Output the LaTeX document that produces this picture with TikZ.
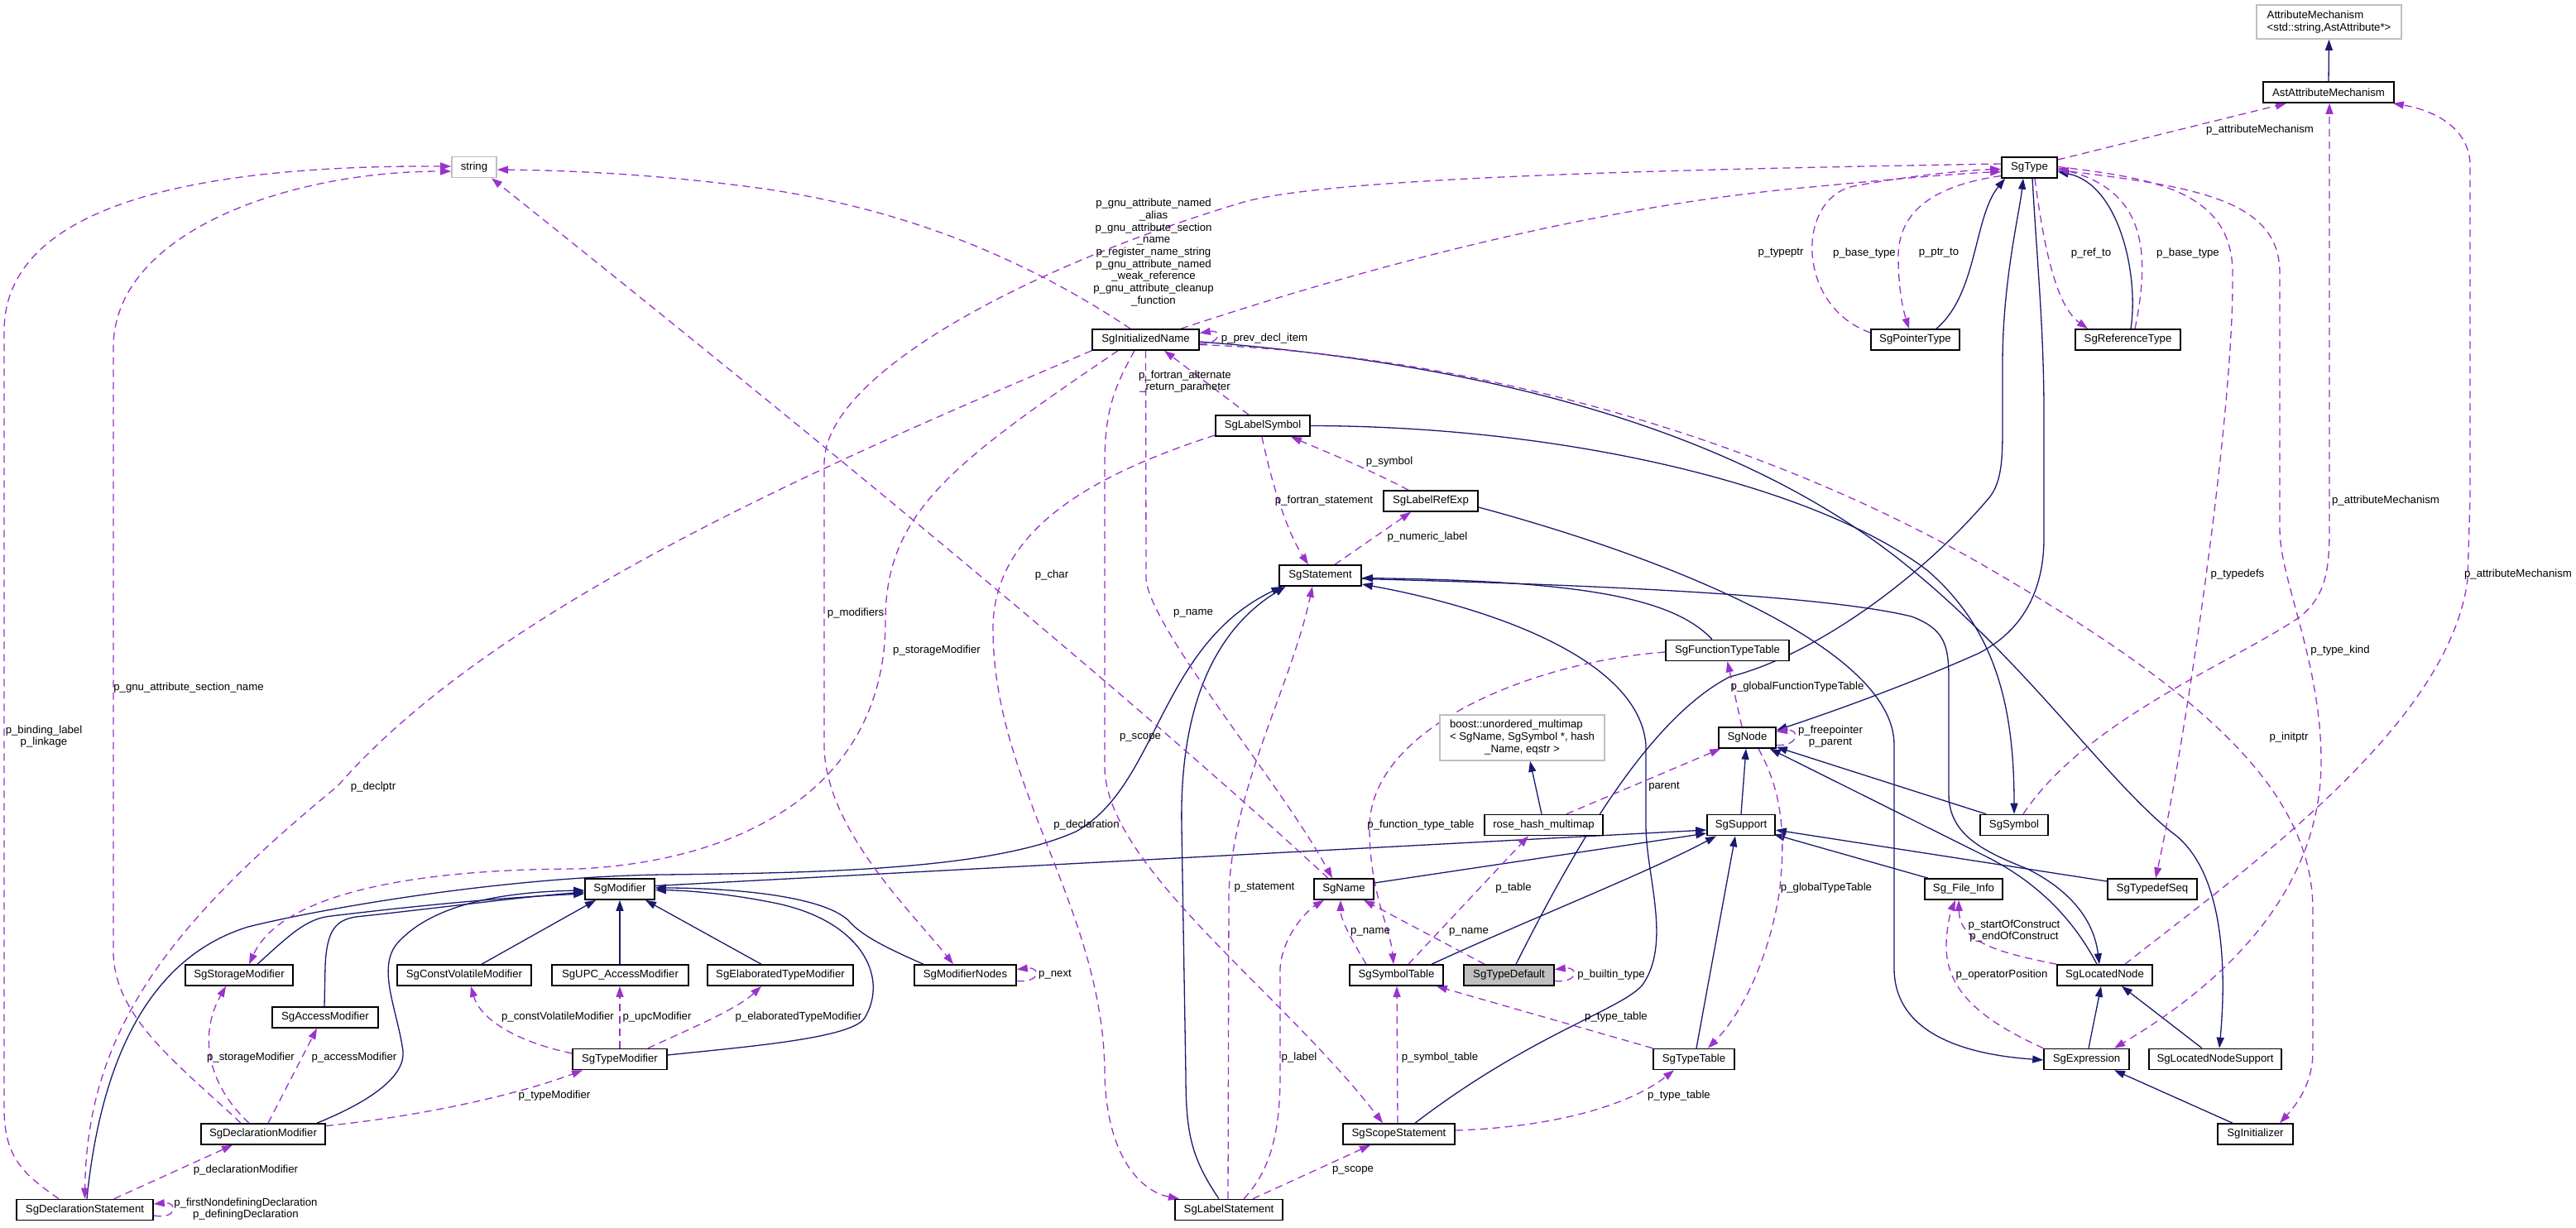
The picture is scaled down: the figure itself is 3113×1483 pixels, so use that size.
\documentclass[tikz,border=0pt]{standalone}
\usepackage{fontspec}
\setmainfont{Liberation Sans}
\usetikzlibrary{arrows.meta}
\definecolor{edgeblue}{HTML}{191970}
\definecolor{edgeviolet}{HTML}{9A32CD}
\definecolor{boxgray}{HTML}{BFBFBF}
\newcommand\dxf{\fontsize{13.2}{14.7}\selectfont}
\pgfdeclarelayer{bg}
\pgfsetlayers{bg,main}
\begin{document}
\begin{tikzpicture}[x=1pt,y=-1pt,
  cls/.style={draw=black, line width=1.6pt, fill=white, minimum height=25pt, inner sep=0pt, font=\dxf, text=black},
  ext/.style={cls, draw=boxgray},
  inh/.style={draw=edgeblue, line width=1.3pt, -{Triangle[length=13pt,width=9pt]}},
  use/.style={draw=edgeviolet, line width=1.3pt, dash pattern=on 9pt off 6pt, -{Triangle[length=13pt,width=9pt]}},
  lbl/.style={font=\dxf, align=center, inner sep=0pt, text=black}]
\useasboundingbox (0,0) rectangle (3113,1483);

% ---------- classes ----------
\node[ext, minimum width=175pt, minimum height=41pt, align=left] (AttrMech) at (2814.5,26.5) {AttributeMechanism\\<std::string,AstAttribute*>};
\node[cls, minimum width=158pt] (AstAttr) at (2814,111.5) {AstAttributeMechanism};
\node[cls, minimum width=67pt] (SgType) at (2452.5,202.5) {SgType};
\node[ext, minimum width=54pt] (string) at (573,202) {string};
\node[cls, minimum width=129pt] (SgInitName) at (1384.5,410.5) {SgInitializedName};
\node[cls, minimum width=107pt] (SgPointerType) at (2314.5,410.5) {SgPointerType};
\node[cls, minimum width=127pt] (SgRefType) at (2571.5,410.5) {SgReferenceType};
\node[cls, minimum width=114pt] (SgLabelSymbol) at (1526,514.5) {SgLabelSymbol};
\node[cls, minimum width=114pt] (SgLabelRefExp) at (1729,605.5) {SgLabelRefExp};
\node[cls, minimum width=99pt] (SgStatement) at (1595.5,695.5) {SgStatement};
\node[cls, minimum width=149pt] (SgFTT) at (2087.5,786) {SgFunctionTypeTable};
\node[cls, minimum width=69pt] (SgNode) at (2111.5,891.5) {SgNode};
\node[ext, minimum width=199pt, minimum height=55pt] (boost) at (1839.5,891.5) {\begin{tabular}{@{}l@{}}boost::unordered\_multimap\\< SgName, SgSymbol *, hash\\\multicolumn{1}{@{}c@{}}{\_Name, eqstr >}\end{tabular}};
\node[cls, minimum width=143pt] (rose) at (1865.5,997) {rose\_hash\_multimap};
\node[cls, minimum width=82pt] (SgSupport) at (2104,997) {SgSupport};
\node[cls, minimum width=82pt] (SgSymbol) at (2434,997) {SgSymbol};
\node[cls, minimum width=84pt] (SgModifier) at (749,1074.5) {SgModifier};
\node[cls, minimum width=72pt] (SgName) at (1624,1074.5) {SgName};
\node[cls, minimum width=94pt] (SgFileInfo) at (2373,1074.5) {Sg\_File\_Info};
\node[cls, minimum width=108pt] (SgTypedefSeq) at (2601,1074.5) {SgTypedefSeq};
\node[cls, minimum width=130pt] (SgStorageMod) at (289,1178.5) {SgStorageModifier};
\node[cls, minimum width=162pt] (SgCVMod) at (561,1178.5) {SgConstVolatileModifier};
\node[cls, minimum width=165pt] (SgUPC) at (749.5,1178.5) {SgUPC\_AccessModifier};
\node[cls, minimum width=176pt] (SgElabMod) at (943,1178.5) {SgElaboratedTypeModifier};
\node[cls, minimum width=123pt] (SgModNodes) at (1166.5,1178.5) {SgModifierNodes};
\node[cls, minimum width=113pt] (SgSymTab) at (1687.5,1178.5) {SgSymbolTable};
\node[cls, minimum width=109pt, fill=boxgray] (SgTypeDefault) at (1823.5,1178.5) {SgTypeDefault};
\node[cls, minimum width=115pt] (SgLocNode) at (2543.5,1178.5) {SgLocatedNode};
\node[cls, minimum width=128pt] (SgAccessMod) at (393,1229.5) {SgAccessModifier};
\node[cls, minimum width=114pt] (SgTypeMod) at (749,1280) {SgTypeModifier};
\node[cls, minimum width=98pt] (SgTypeTable) at (2047,1280) {SgTypeTable};
\node[cls, minimum width=103pt] (SgExpr) at (2521.5,1280) {SgExpression};
\node[cls, minimum width=160pt] (SgLNS) at (2677,1280) {SgLocatedNodeSupport};
\node[cls, minimum width=150pt] (SgDeclMod) at (318,1370.5) {SgDeclarationModifier};
\node[cls, minimum width=135pt] (SgScopeSt) at (1690.5,1370.5) {SgScopeStatement};
\node[cls, minimum width=91pt] (SgInitializer) at (2725.5,1370.5) {SgInitializer};
\node[cls, minimum width=165pt] (SgDeclSt) at (102.5,1462) {SgDeclarationStatement};
\node[cls, minimum width=130pt] (SgLabelSt) at (1485,1462) {SgLabelStatement};

% ---------- edge labels ----------
\node[lbl] (l01) at (1394,305) {p\_gnu\_attribute\_named\\\_alias\\p\_gnu\_attribute\_section\\\_name\\p\_register\_name\_string\\p\_gnu\_attribute\_named\\\_weak\_reference\\p\_gnu\_attribute\_cleanup\\\_function};
\node[lbl] (l02) at (1528,409) {p\_prev\_decl\_item};
\node[lbl] (l03) at (1432,461) {p\_fortran\_alternate\\\_return\_parameter};
\node[lbl] (l04) at (2152,306) {p\_typeptr};
\node[lbl] (l05) at (2253,306) {p\_base\_type};
\node[lbl] (l06) at (2343,306) {p\_ptr\_to};
\node[lbl] (l07) at (1679,558) {p\_symbol};
\node[lbl] (l08) at (2731,157) {p\_attributeMechanism};
\node[lbl] (l09) at (2527,306) {p\_ref\_to};
\node[lbl] (l10) at (2644,306) {p\_base\_type};
\node[lbl] (l11) at (228,831) {p\_gnu\_attribute\_section\_name};
\node[lbl] (l12) at (53,890) {p\_binding\_label\\p\_linkage};
\node[lbl] (l13) at (451,951) {p\_declptr};
\node[lbl] (l14) at (1271,695) {p\_char};
\node[lbl] (l15) at (1034,741) {p\_modifiers};
\node[lbl] (l16) at (1442,741) {p\_name};
\node[lbl] (l17) at (1132,786) {p\_storageModifier};
\node[lbl] (l18) at (1378,891) {p\_scope};
\node[lbl] (l19) at (1313,997) {p\_declaration};
\node[lbl] (l20) at (1600,605) {p\_fortran\_statement};
\node[lbl] (l21) at (1725,649) {p\_numeric\_label};
\node[lbl] (l22) at (2172,830) {p\_globalFunctionTypeTable};
\node[lbl] (l23) at (2212,890) {p\_freepointer\\p\_parent};
\node[lbl] (l24) at (2011,951) {parent};
\node[lbl] (l25) at (1717,997) {p\_function\_type\_table};
\node[lbl] (l26) at (2883,605) {p\_attributeMechanism};
\node[lbl] (l27) at (2704,694) {p\_typedefs};
\node[lbl] (l28) at (3043,694) {p\_attributeMechanism};
\node[lbl] (l29) at (2828,786) {p\_type\_kind};
\node[lbl] (l30) at (2766,891) {p\_initptr};
\node[lbl] (l31) at (303,1278) {p\_storageModifier};
\node[lbl] (l32) at (428,1278) {p\_accessModifier};
\node[lbl] (l33) at (674,1229) {p\_constVolatileModifier};
\node[lbl] (l34) at (794,1229) {p\_upcModifier};
\node[lbl] (l35) at (670,1324) {p\_typeModifier};
\node[lbl] (l36) at (297,1414) {p\_declarationModifier};
\node[lbl] (l37) at (297,1461) {p\_firstNondefiningDeclaration\\p\_definingDeclaration};
\node[lbl] (l38) at (965,1229) {p\_elaboratedTypeModifier};
\node[lbl] (l39) at (1275,1178) {p\_next};
\node[lbl] (l40) at (1528,1073) {p\_statement};
\node[lbl] (l41) at (1570,1278) {p\_label};
\node[lbl] (l42) at (1829,1073) {p\_table};
\node[lbl] (l43) at (1656,1126) {p\_name};
\node[lbl] (l44) at (1775,1126) {p\_name};
\node[lbl] (l45) at (1947,1178) {p\_builtin\_type};
\node[lbl] (l46) at (1953,1229) {p\_type\_table};
\node[lbl] (l47) at (2207,1073) {p\_globalTypeTable};
\node[lbl] (l48) at (1740,1278) {p\_symbol\_table};
\node[lbl] (l49) at (2029,1324) {p\_type\_table};
\node[lbl] (l50) at (1635,1414) {p\_scope};
\node[lbl] (l51) at (2434,1125) {p\_startOfConstruct\\p\_endOfConstruct};
\node[lbl] (l52) at (2419,1178) {p\_operatorPosition};

\begin{pgfonlayer}{bg}
\fill[white] (0,0) rectangle (3113,1483);
% ---------- inheritance (solid) ----------
\draw[inh] (AstAttr.north) -- (AttrMech.south);
\draw[inh] ([xshift=25.5pt]SgPointerType.north) .. controls (2390,355) and (2385,262) .. ([xshift=-29.5pt]SgType.south);
\draw[inh] ([xshift=3.5pt]SgRefType.north) .. controls (2585,330) and (2560,222) .. ([yshift=-5pt]SgType.east);
\draw[inh] ([xshift=8.5pt]SgTypeDefault.north) .. controls (1900,1030) and (1990,870) .. (2090,818) .. controls (2200,790) and (2330,690) .. (2405,600) .. controls (2420,580) and (2420,550) .. (2420,510) -- (2420,440) .. controls (2420,340) and (2440,260) .. ([xshift=-7.5pt]SgType.south);
\draw[inh] ([xshift=3.5pt]SgType.south) .. controls (2462,320) and (2470,400) .. (2470,500) -- (2470,650) .. controls (2470,730) and (2430,770) .. (2390,790) .. controls (2300,830) and (2200,865) .. ([yshift=9pt]SgNode.east);
\draw[inh] ([xshift=-18.5pt]SgFTT.north) .. controls (2020,720) and (1900,702) .. ([yshift=-3pt]SgStatement.east);
\draw[inh] ([yshift=-4pt]SgStatement.east) .. controls (1900,706) and (2200,718) .. (2310,745) .. controls (2350,760) and (2355,780) .. (2355,820) -- (2355,960) .. controls (2355,1010) and (2400,1030) .. (2450,1050) .. controls (2500,1075) and (2530,1110) .. ([xshift=-6.5pt]SgLocNode.north);
\draw[inh] ([xshift=19.5pt]SgScopeSt.north) .. controls (1850,1250) and (1960,1220) .. (1985,1190) .. controls (2020,1140) and (1990,1060) .. (1989,1000) -- (1989,900) .. controls (1980,790) and (1780,730) .. ([yshift=-10.5pt]SgStatement.east);
\draw[inh] ([xshift=2.5pt]SgDeclSt.north) .. controls (120,1300) and (170,1160) .. (300,1120) .. controls (380,1100) and (600,1060) .. (800,1057) .. controls (1000,1055) and (1200,1050) .. (1300,1005) .. controls (1400,950) and (1400,780) .. ([xshift=-46pt]SgStatement.south);
\draw[inh] ([xshift=-12pt]SgLabelSt.north) .. controls (1440,1400) and (1433,1370) .. (1433,1300) -- (1428,1000) .. controls (1425,850) and (1470,760) .. ([xshift=-42pt]SgStatement.south);
\draw[inh] ([yshift=4pt]SgModifier.east) -- ([yshift=-6pt]SgSupport.west);
\draw[inh] ([yshift=7.5pt]SgName.east) -- ([yshift=-10pt]SgSupport.west);
\draw[inh] ([xshift=42.5pt]SgSymTab.north) .. controls (1850,1110) and (1990,1055) .. ([xshift=-30pt]SgSupport.south);
\draw[inh] ([xshift=3pt]SgTypeTable.north) -- ([xshift=-7pt]SgSupport.south);
\draw[inh] ([xshift=-43pt]SgFileInfo.north) -- ([xshift=-2pt,yshift=2pt]SgSupport.south east);
\draw[inh] ([yshift=9.5pt]SgTypedefSeq.west) -- ([yshift=-6pt]SgSupport.east);
\draw[inh] (SgSupport.north) -- ([xshift=-1.5pt]SgNode.south);
\draw[inh] ([xshift=-34pt]SgSymbol.north) -- ([yshift=2pt]SgNode.south east);
\draw[inh] ([xshift=-9.5pt]SgLocNode.north) .. controls (2500,1100) and (2450,1060) .. (2400,1035) -- ([xshift=-8pt]SgNode.south east);
\draw[inh] (SgLabelSymbol.east) .. controls (1900,515) and (2200,590) .. (2330,690) .. controls (2410,760) and (2434,850) .. (SgSymbol.north);
\draw[inh] ([yshift=-2.5pt]SgInitName.east) .. controls (1800,440) and (2100,520) .. (2300,680) .. controls (2450,800) and (2550,950) .. (2630,1010) .. controls (2690,1060) and (2690,1180) .. ([xshift=5pt]SgLNS.north);
\draw[inh] ([yshift=-7.5pt]SgLabelRefExp.east) .. controls (2000,670) and (2289,780) .. (2289,900) -- (2289,1170) .. controls (2289,1260) and (2400,1276) .. ([yshift=-1pt]SgExpr.west);
\draw[inh] ([xshift=2.5pt]SgExpr.north) -- ([xshift=-4.5pt]SgLocNode.south);
\draw[inh] ([xshift=-16pt]SgLNS.north) -- ([xshift=20.5pt]SgLocNode.south);
\draw[inh] ([xshift=-27.5pt]SgInitializer.north) -- ([xshift=33.5pt]SgExpr.south);
\draw[inh] ([xshift=-2.5pt]rose.north) -- ([xshift=9.5pt]boost.south);
\draw[inh] ([xshift=22pt]SgStorageMod.north) .. controls (350,1130) and (370,1110) .. (400,1107) .. controls (500,1095) and (600,1085) .. ([yshift=-5.5pt]SgModifier.west);
\draw[inh] ([xshift=-1pt]SgAccessMod.north) -- (393,1167) .. controls (395,1125) and (405,1112) .. (430,1108) .. controls (550,1095) and (620,1085) .. ([yshift=-3.5pt]SgModifier.west);
\draw[inh] ([xshift=65pt]SgDeclMod.north) .. controls (450,1330) and (490,1300) .. (487,1270) .. controls (480,1220) and (455,1170) .. (480,1140) .. controls (520,1095) and (600,1078) .. ([yshift=-1.5pt]SgModifier.west);
\draw[inh] ([xshift=21pt]SgCVMod.north) -- ([xshift=-29pt]SgModifier.south);
\draw[inh] ([xshift=-0.5pt]SgUPC.north) -- (SgModifier.south);
\draw[inh] ([xshift=-23pt]SgElabMod.north) -- ([xshift=31pt]SgModifier.south);
\draw[inh] ([yshift=5pt]SgTypeMod.east) .. controls (900,1265) and (1030,1255) .. (1045,1230) .. controls (1075,1180) and (1040,1110) .. (930,1090) .. controls (880,1080) and (830,1076) .. ([yshift=-1pt]SgModifier.east);
\draw[inh] ([xshift=-50.5pt]SgModNodes.north) .. controls (1070,1145) and (1040,1130) .. (1025,1112) .. controls (990,1080) and (870,1073) .. ([yshift=1.5pt]SgModifier.east);

% ---------- usage (dashed) ----------
\draw[use] ([yshift=9.5pt]SgType.east) -- ([xshift=-51pt]AstAttr.south);
\draw[use] ([xshift=11pt]SgSymbol.north) .. controls (2520,870) and (2700,800) .. (2780,745) .. controls (2810,720) and (2815,690) .. (2815,640) -- ([xshift=1pt]AstAttr.south);
\draw[use] ([xshift=24.5pt]SgLocNode.north) .. controls (2700,1060) and (2960,880) .. (2982,700) -- (2985,600) -- (2985,200) .. controls (2985,160) and (2950,135) .. ([xshift=-2pt]AstAttr.south east);
\draw[use] ([yshift=1pt]SgType.east) .. controls (2600,215) and (2698,230) .. (2698,330) .. controls (2700,500) and (2640,900) .. ([xshift=4pt]SgTypedefSeq.north);
\draw[use] ([yshift=-3pt]SgType.east) .. controls (2650,225) and (2755,240) .. (2755,330) -- (2755,640) .. controls (2755,700) and (2805,800) .. (2805,920) .. controls (2805,1100) and (2650,1210) .. ([xshift=33.5pt]SgExpr.north);
\draw[use] ([yshift=-6pt]SgInitName.east) .. controls (1800,430) and (2150,540) .. (2400,685) .. controls (2650,830) and (2795,950) .. (2795,1100) -- (2795,1270) .. controls (2795,1310) and (2775,1335) .. ([xshift=29.5pt]SgInitializer.north);
\draw[use] ([xshift=42.5pt]SgInitName.north) .. controls (1600,340) and (1900,250) .. (2200,225) .. controls (2300,215) and (2380,209) .. ([yshift=-5pt]SgType.west);
\draw[use] ([yshift=8.5pt]SgPointerType.west) .. controls (2170,370) and (2170,240) .. (2240,225) .. controls (2320,210) and (2390,205) .. ([yshift=-2pt]SgType.west);
\draw[use] ([yshift=-10pt]SgType.west) .. controls (2330,225) and (2294,260) .. (2294,310) .. controls (2294,350) and (2300,375) .. ([xshift=-7.5pt]SgPointerType.north);
\draw[use] ([xshift=6.5pt]SgType.south) .. controls (2470,300) and (2485,370) .. ([xshift=-48.5pt]SgRefType.north);
\draw[use] ([xshift=8.5pt]SgRefType.north) .. controls (2600,300) and (2590,230) .. ([yshift=-1pt]SgType.east);
\draw[use] ([yshift=4.5pt]SgType.west) .. controls (2000,205) and (1600,215) .. (1500,245) .. controls (1250,320) and (996,450) .. (996,560) -- (996,900) .. controls (996,1000) and (1100,1100) .. ([xshift=-14.5pt]SgModNodes.north);
\draw[use] ([xshift=-18.5pt]SgInitName.north) .. controls (1250,320) and (1100,250) .. (900,225) .. controls (800,212) and (700,206) .. ([yshift=-3pt]string.east);
\draw[use] ([xshift=-31.5pt]SgDeclSt.north) .. controls (30,1420) and (5,1400) .. (5,1340) -- (5,400) .. controls (5,280) and (150,199) .. ([yshift=1pt]string.west);
\draw[use] ([xshift=-27pt]SgDeclMod.north) .. controls (220,1290) and (137,1230) .. (137,1150) -- (137,420) .. controls (137,280) and (350,207) .. ([yshift=-5pt]string.west);
\draw[use] ([xshift=-19pt]SgName.north) .. controls (1300,780) and (800,380) .. ([xshift=21pt]string.south);
\draw[use] (SgInitName.south west) .. controls (1000,560) and (600,730) .. (408,950) .. controls (200,1120) and (105,1250) .. (SgDeclSt.north);
\draw[use] ([xshift=-33.5pt]SgInitName.south) .. controls (1150,560) and (1070,620) .. (1070,750) .. controls (1070,950) and (900,1040) .. (700,1050) .. controls (500,1050) and (340,1080) .. ([xshift=12pt]SgStorageMod.north);
\draw[use] ([xshift=-13.5pt]SgInitName.south) .. controls (1345,470) and (1335,500) .. (1335,560) -- (1335,930) .. controls (1340,1050) and (1550,1200) .. ([xshift=-19.5pt]SgScopeSt.north);
\draw[use] (SgInitName.south) -- (1385,700) .. controls (1390,760) and (1550,950) .. ([xshift=-14pt]SgName.north);
\draw[use] ([yshift=-11.5pt]SgLabelSymbol.west) .. controls (1300,580) and (1200,650) .. (1200,760) .. controls (1200,950) and (1335,1100) .. (1335,1300) .. controls (1338,1400) and (1380,1440) .. ([xshift=-60pt]SgLabelSt.north);
\draw[use] ([xshift=-1pt]SgLabelSymbol.south) .. controls (1540,600) and (1560,650) .. ([xshift=-14.5pt]SgStatement.north);
\draw[use] ([xshift=-17pt]SgLabelSymbol.north) -- ([xshift=22.5pt]SgInitName.south);
\draw[use] ([xshift=-27pt]SgLabelRefExp.north) .. controls (1650,565) and (1600,545) .. ([xshift=34pt]SgLabelSymbol.south);
\draw[use] ([xshift=17.5pt]SgStatement.north) -- ([xshift=-24pt]SgLabelRefExp.south);
\draw[use] ([xshift=-1pt]SgLabelSt.north) -- (1485,1080) .. controls (1490,950) and (1560,830) .. ([xshift=-9.5pt]SgStatement.south);
\draw[use] ([xshift=18pt]SgLabelSt.north) .. controls (1530,1420) and (1547,1380) .. (1547,1300) -- (1547,1170) .. controls (1550,1130) and (1580,1100) .. ([xshift=-24pt]SgName.south);
\draw[use] ([xshift=29pt]SgLabelSt.north) -- ([xshift=-34.5pt]SgScopeSt.south);
\draw[use] ([xshift=35.5pt]SgDeclSt.north) -- ([xshift=-37pt]SgDeclMod.south);
\draw[use] ([yshift=-7pt]SgDeclSt.east) .. controls (215,1474) and (215,1452) .. ([yshift=7pt]SgDeclSt.east);
\draw[use] ([xshift=-17pt]SgDeclMod.north) .. controls (250,1310) and (240,1250) .. ([xshift=-16pt]SgStorageMod.south);
\draw[use] ([xshift=6pt]SgDeclMod.north) -- ([xshift=-10pt]SgAccessMod.south);
\draw[use] ([yshift=10pt]SgDeclMod.east) .. controls (500,1350) and (620,1325) .. ([xshift=-45pt]SgTypeMod.south);
\draw[use] ([yshift=7pt]SgTypeMod.west) .. controls (620,1258) and (580,1230) .. ([xshift=8pt]SgCVMod.south);
\draw[use] (SgTypeMod.north) -- ([xshift=-0.5pt]SgUPC.south);
\draw[use] ([xshift=34pt]SgTypeMod.north) .. controls (830,1245) and (890,1220) .. ([xshift=-23pt]SgElabMod.south);
\draw[use] ([yshift=-7pt]SgModNodes.east) .. controls (1258,1188) and (1258,1168) .. ([yshift=7pt]SgModNodes.east);
\draw[use] ([yshift=-7pt]SgTypeDefault.east) .. controls (1908,1188) and (1908,1168) .. ([yshift=7pt]SgTypeDefault.east);
\draw[use] ([xshift=-29.5pt]SgTypeDefault.north) -- ([xshift=24pt]SgName.south);
\draw[use] ([xshift=-36.5pt]SgSymTab.north) .. controls (1630,1130) and (1620,1110) .. ([xshift=-4pt]SgName.south);
\draw[use] ([xshift=14.5pt]SgSymTab.north) -- ([xshift=-18.5pt]rose.south);
\draw[use] ([yshift=-2pt]SgFTT.west) .. controls (1850,800) and (1655,880) .. (1655,1000) .. controls (1655,1080) and (1680,1120) .. ([xshift=-3.5pt]SgSymTab.north);
\draw[use] (SgTypeTable.north west) -- ([xshift=-9pt]SgSymTab.south east);
\draw[use] ([xshift=-1.5pt]SgScopeSt.north) -- ([xshift=0.5pt]SgSymTab.south);
\draw[use] ([yshift=4.5pt]SgScopeSt.east) .. controls (1880,1362) and (1970,1335) .. ([xshift=-24pt]SgTypeTable.south);
\draw[use] ([xshift=-6.5pt]SgNode.north) -- (SgFTT.south);
\draw[use] ([xshift=13.5pt]SgNode.south) .. controls (2150,950) and (2160,1000) .. (2150,1080) .. controls (2135,1170) and (2100,1230) .. ([xshift=17pt]SgTypeTable.north);
\draw[use] ([yshift=-9pt]SgNode.east) .. controls (2175,902) and (2175,880) .. ([yshift=7pt]SgNode.east);
\draw[use] ([xshift=27.5pt]rose.north) -- ([xshift=3pt]SgNode.south west);
\draw[use] (SgLocNode.north west) .. controls (2420,1152) and (2368,1140) .. ([xshift=-6pt]SgFileInfo.south);
\draw[use] (SgExpr.north west) .. controls (2400,1235) and (2350,1200) .. (2352,1140) .. controls (2353,1115) and (2358,1100) .. ([xshift=-10pt]SgFileInfo.south);
\draw[use] ([yshift=-5pt]SgInitName.east) .. controls (1475,416) and (1478,398) .. ([yshift=8pt]SgInitName.east);
\end{pgfonlayer}
\end{tikzpicture}
\end{document}
